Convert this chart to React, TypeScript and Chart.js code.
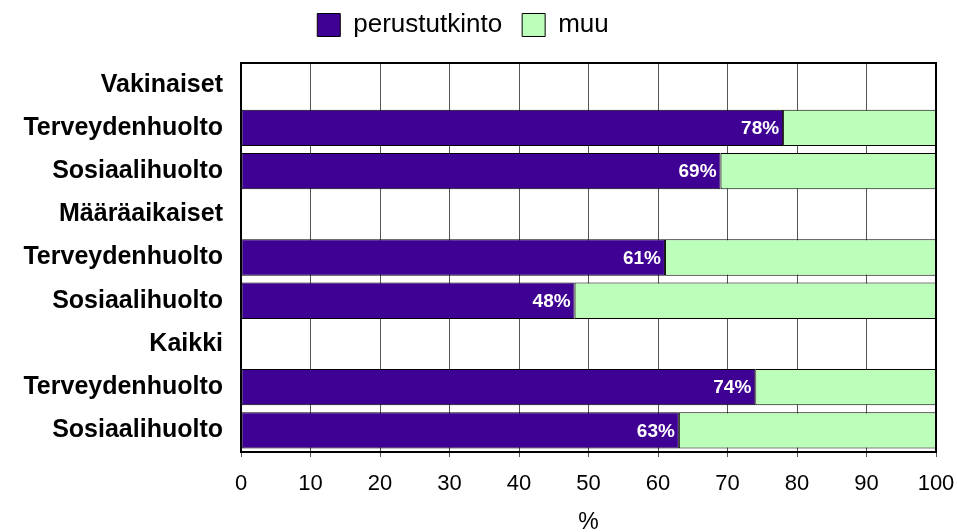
import React, { useEffect, useRef } from "react";
import { Chart, registerables } from "chart.js";

Chart.register(...registerables);

const categories = [
  "Vakinaiset",
  "Terveydenhuolto",
  "Sosiaalihuolto",
  "Määräaikaiset",
  "Terveydenhuolto",
  "Sosiaalihuolto",
  "Kaikki",
  "Terveydenhuolto",
  "Sosiaalihuolto",
];
const perustutkinto = [null, 78, 69, null, 61, 48, null, 74, 63];
const muu = [null, 22, 31, null, 39, 52, null, 26, 37];
const xTicks = [0, 10, 20, 30, 40, 50, 60, 70, 80, 90, 100];

const FONT = "Arial, 'Liberation Sans', Helvetica, sans-serif";

export default function App() {
  const ref = useRef<HTMLCanvasElement>(null);
  useEffect(() => {
    if (!ref.current) return;
    const labelPlugin = {
      id: "valueLabels",
      afterDatasetsDraw(chart: any) {
        const ctx = chart.ctx;
        const meta = chart.getDatasetMeta(0);
        ctx.save();
        ctx.font = `bold 19px ${FONT}`;
        ctx.fillStyle = "#ffffff";
        ctx.textAlign = "right";
        ctx.textBaseline = "middle";
        meta.data.forEach((el: any, i: number) => {
          const v = perustutkinto[i];
          if (v == null) return;
          ctx.fillText(`${v}%`, el.x - 4, el.y + 1);
        });
        ctx.restore();
      },
    };
    const borderPlugin = {
      id: "plotBorder",
      afterDatasetsDraw(chart: any) {
        const { ctx, chartArea: a } = chart;
        ctx.save();
        ctx.strokeStyle = "#000";
        ctx.lineWidth = 2;
        ctx.strokeRect(a.left, a.top, a.right - a.left, a.bottom - a.top);
        ctx.restore();
      },
    };
    const legendMargin = {
      id: "legendMargin",
      beforeInit(chart: any) {
        const orig = chart.legend.fit;
        chart.legend.fit = function () {
          orig.bind(chart.legend)();
          this.height += 15;
        };
      },
      afterLayout(chart: any) {
        if (chart.legend) chart.legend.right -= 10;
      },
    };
    const chart = new Chart(ref.current, {
      type: "bar",
      data: {
        labels: categories,
        datasets: [
          {
            label: "perustutkinto",
            data: perustutkinto as any,
            backgroundColor: "#3f0094",
            borderColor: "#000000",
            borderWidth: 1,
            borderSkipped: false,
          },
          {
            label: "muu",
            data: muu as any,
            backgroundColor: "#bbffbb",
            borderColor: "#000000",
            borderWidth: 1,
            borderSkipped: false,
          },
        ],
      },
      options: {
        indexAxis: "y",
        animation: false,
        responsive: false,
        maintainAspectRatio: false,
        datasets: { bar: { categoryPercentage: 1, barPercentage: 0.84 } },
        layout: { padding: { left: 0, right: 21, top: -8, bottom: 0 } },
        plugins: {
          tooltip: { enabled: false },
          legend: {
            display: true,
            position: "top",
            labels: {
              font: { family: FONT, size: 26 },
              color: "#000",
              boxWidth: 23,
              boxHeight: 23,
              padding: 20,
              generateLabels(chart: any) {
                return chart.data.datasets.map((d: any, i: number) => ({
                  text: d.label,
                  fillStyle: d.backgroundColor,
                  strokeStyle: "#000",
                  lineWidth: 1,
                  datasetIndex: i,
                  hidden: false,
                  fontColor: "#000",
                }));
              },
            },
          },
        },
        scales: {
          x: {
            stacked: true,
            min: 0,
            max: 100,
            afterBuildTicks(scale: any) {
              scale.ticks = xTicks.map((v) => ({ value: v }));
            },
            afterFit(scale: any) {
              scale.height = 80;
              scale.paddingRight = 0;
              scale.paddingLeft = 0;
            },
            grid: {
              display: true,
              color: "#555555",
              lineWidth: 1,
              drawTicks: true,
              tickLength: 5,
            },
            border: { display: true, color: "#000", width: 2 },
            ticks: {
              font: { family: FONT, size: 22 },
              color: "#000",
              padding: 14,
              maxRotation: 0,
            },
            title: {
              display: true,
              text: "%",
              font: { family: FONT, size: 23 },
              color: "#000",
              padding: { top: 1, bottom: -4 },
            },
          },
          y: {
            stacked: true,
            grid: { display: false, drawTicks: false },
            border: { display: true, color: "#000", width: 2 },
            ticks: {
              font: { family: FONT, size: 25, weight: "bold" },
              color: "#000",
              padding: 18,
              autoSkip: false,
            },
            afterFit(scale: any) {
              scale.width = 241;
            },
          },
        },
      },
      plugins: [labelPlugin, borderPlugin, legendMargin],
    } as any);
    return () => chart.destroy();
  }, []);
  return (
    <div style={{ position: "absolute", left: 0, top: 0, width: 957, height: 532 }}>
      <canvas ref={ref} width={957} height={532} style={{ width: 957, height: 532 }} />
    </div>
  );
}
